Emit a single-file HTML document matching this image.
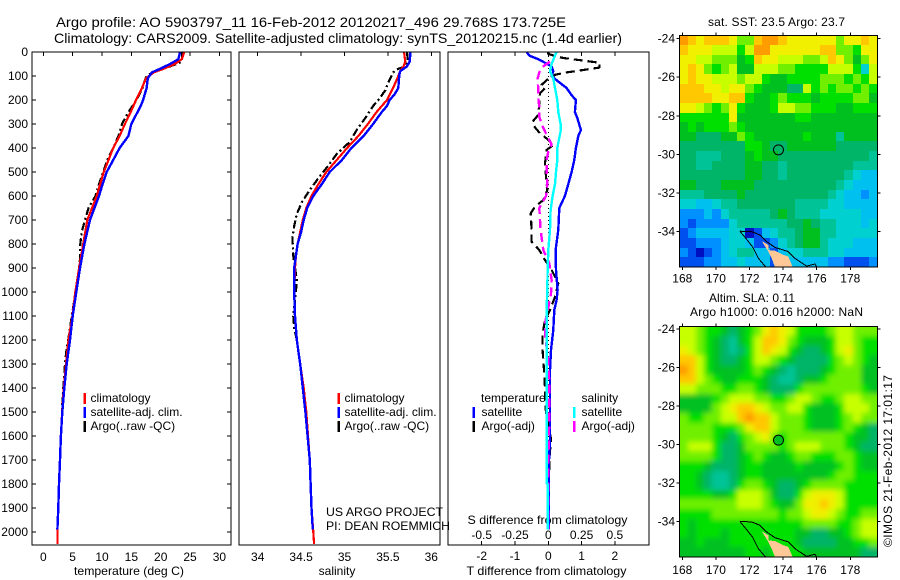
<!DOCTYPE html>
<html>
<head>
<meta charset="utf-8">
<title>Argo profile</title>
<style>
html,body{margin:0;padding:0;background:#fff;width:900px;height:580px;overflow:hidden}
svg{display:block;font-family:"Liberation Sans",sans-serif;font-size:12px;fill:#000}
text{fill:#000}
</style>
</head>
<body>
<svg id="fig" xmlns="http://www.w3.org/2000/svg" width="900" height="580" viewBox="0 0 900 580">
<defs>
<filter id="smooth" x="-10%" y="-10%" width="120%" height="120%"><feGaussianBlur stdDeviation="2.6"/></filter>
<clipPath id="sla-clip"><rect x="679.3" y="326.7" width="198" height="230.3"/></clipPath>
</defs>
<text x="56" y="27" font-size="14" textLength="510" lengthAdjust="spacingAndGlyphs">Argo profile: AO 5903797_11 16-Feb-2012 20120217_496 29.768S 173.725E</text>
<text x="54" y="43" font-size="14" textLength="568" lengthAdjust="spacingAndGlyphs">Climatology: CARS2009. Satellite-adjusted climatology: synTS_20120215.nc (1.4d earlier)</text>
<text x="129" y="575" text-anchor="middle" textLength="110" lengthAdjust="spacingAndGlyphs">temperature (deg C)</text>
<text x="337" y="575" text-anchor="middle">salinity</text>
<text x="466.5" y="575" textLength="160" lengthAdjust="spacingAndGlyphs">T difference from climatology</text>
<text x="467.5" y="524" textLength="160" lengthAdjust="spacingAndGlyphs">S difference from climatology</text>
<text x="326" y="516" textLength="117" lengthAdjust="spacingAndGlyphs">US ARGO PROJECT</text>
<text x="326" y="530" textLength="124" lengthAdjust="spacingAndGlyphs">PI: DEAN ROEMMICH</text>
<text x="708" y="26" textLength="137" lengthAdjust="spacing">sat. SST: 23.5  Argo: 23.7</text>
<text x="709" y="302" textLength="86" lengthAdjust="spacing">Altim. SLA: 0.11</text>
<text x="690" y="316" textLength="173" lengthAdjust="spacing">Argo h1000: 0.016  h2000: NaN</text>
<text transform="translate(892,547) rotate(-90)" textLength="172" lengthAdjust="spacing">©IMOS 21-Feb-2012 17:01:17</text>
</svg>
<script>
// ---- Profile data (depth in dbar) ----
const depthTempClim = [0,30,50,70,85,110,150,200,250,300,350,400,450,500,550,600,700,800,900,1000,1100,1200,1300,1400,1500,1600,1700,1800,1900,2000,2050];
const tempClim = [24,23.6,22.4,20.5,18.8,17.5,16.8,15.8,14.9,13.9,13,11.9,11.1,10.3,9.7,9.1,7.5,6.8,6.1,5.45,4.95,4.3,3.87,3.5,3.2,3,2.85,2.67,2.55,2.4,2.4];
const depthTempSat = [0,30,50,70,85,110,150,200,225,300,350,400,450,500,550,600,700,800,900,1000,1100,1200,1300,1400,1500,1600,1700,1800,1900,1990];
const tempSat = [23.3,23,21.6,19.9,18.5,17.8,17.6,17,16.6,15,14.5,13,11.9,10.8,10.1,9.49,7.96,7,6.25,5.63,5,4.55,3.98,3.58,3.24,3,2.85,2.67,2.55,2.4];
const depthTempArgo = [0,40,50,65,80,100,125,150,200,250,300,350,400,450,500,550,600,650,700,750,800,850,900,1000,1100,1200,1250,1300,1400,1500];
const tempArgo = [23.7,23.6,22.7,21,19,17.6,17.2,16.9,15.9,14.5,13.4,12.8,11.9,10.9,10.2,9.5,8.9,7.7,7.1,6.55,6.3,6.3,6.1,5.5,4.85,4.25,3.9,3.7,3.4,3.15];

const depthSalClim = [0,40,60,80,100,150,200,250,300,350,400,450,500,550,600,650,700,750,800,850,900,1000,1100,1200,1300,1400,1500,1600,1700,1800,1900,2000,2050];
const salClim = [35.686,35.7,35.68,35.64,35.62,35.56,35.49,35.37,35.27,35.16,35.03,34.91,34.79,34.7,34.62,34.56,34.52,34.49,34.46,34.44,34.43,34.42,34.43,34.45,34.49,34.53,34.56,34.58,34.6,34.61,34.62,34.64,34.65];
const depthSalSat = [0,40,60,80,100,150,175,200,225,250,300,350,400,450,500,550,600,650,700,750,800,850,900,1000,1100,1200,1300,1400,1500,1600,1700,1800,1900,1990];
const salSat = [35.76,35.75,35.72,35.64,35.63,35.62,35.58,35.52,35.49,35.43,35.33,35.22,35.08,34.97,34.83,34.74,34.64,34.57,34.53,34.5,34.46,34.44,34.42,34.42,34.43,34.45,34.49,34.52,34.55,34.575,34.6,34.61,34.62,34.635];
const depthSalArgo = [0,40,60,70,85,100,130,160,200,225,275,325,375,425,475,525,575,625,675,725,775,850,950,1000,1100,1150,1200,1300,1400,1500];
const salArgo = [35.72,35.73,35.7,35.62,35.56,35.54,35.5,35.47,35.39,35.33,35.24,35.14,35.06,34.91,34.81,34.7,34.6,34.51,34.45,34.42,34.4,34.41,34.45,34.44,34.41,34.42,34.45,34.49,34.53,34.56];

const depthDiffTSat = [0,15,30,50,60,80,100,120,150,180,200,250,275,325,350,400,450,500,550,600,650,741,825,908,992,1033,1075,1158,1242,1325,1450,1612,1700,1990];
const diffTSat = [-.65,-.57,-.3,-.03,.1,.15,.1,.27,.55,.7,.83,.8,.87,.98,.9,.83,.78,.7,.6,.5,.33,.3,.22,.23,.28,.25,.18,.15,.08,.05,.05,.05,.02,.01];
const depthDiffSSat = [0,15,50,80,110,150,200,250,300,330,400,450,500,550,600,658,741,825,908,992,1075,1158,1242,1325,1450,1796,1800,1990];
const diffSSat = [.0625,.05,.025,.0125,.0375,.05,.0675,.075,.0925,.0925,.0675,.0675,.0575,.05,.0325,.0175,.0125,0,-.005,-.0075,-.0125,-.0125,-.0125,-.0125,-.0125,-.0125,-.005,-.005];
const depthDiffTArgo = [0,8,17,25,36,45,65,75,85,95,117,137,150,172,228,262,290,314,339,360,388,408,464,519,575,617,644,672,742,790,825,867,908,964,1020,1075,1117,1175,1242,1325,1400,1450,1500,1612,1700,1990];
const diffTArgo = [0,0,.2,.45,1.05,1.55,1.53,1.05,.55,.2,-.05,-.2,-.1,-.25,-.28,-.3,-.47,-.4,-.25,-.05,.15,-.05,-.1,-.07,-.03,-.15,-.4,-.53,-.5,-.5,-.27,-.1,.1,.3,.2,.05,-.1,-.17,-.17,-.13,-.1,-.1,-.07,.08,.03,0];
const depthDiffSArgo = [40,50,65,85,115,150,190,230,270,310,345,385,415,450,500,550,600,650,700,741,825,880,950,1008,1064,1130,1183,1283,1380,1450,1600,1700,1990];
const diffSArgo = [.0125,-.0125,-.05,-.0675,-.0825,-.075,-.075,-.0675,-.0675,-.0425,-.0125,.025,0,-.0125,-.0125,-.0075,-.0175,-.0675,-.0625,-.0575,-.0375,.0075,.025,.02,0,-.025,-.025,0,.0075,.0075,.005,0,0];

// ---- Tick labels ----
const depthTicks = [0,100,200,300,400,500,600,700,800,900,1000,1100,1200,1300,1400,1500,1600,1700,1800,1900,2000];
const tempTicks = [0,5,10,15,20,25,30];
const salTicks = [34,34.5,35,35.5,36];
const diffTTicks = [-2,-1,0,1,2];
const diffSTicks = [-0.5,-0.25,0,0.25,0.5];
const lonTicks = [168,170,172,174,176,178];
const latTicks = [-24,-26,-28,-30,-32,-34];

// ---- Argo float position ----
const floatLon = [173.725];
const floatLat = [-29.768];

// ---- Map colour-level grids (north to south, west to east) ----
const sstLevels = [
[13,12,11,12,12,12,11,9,9,12,13,13,12,11,11,11,11,11,11,9,11,11,12,11],
[12,11,11,11,10,10,10,8,10,13,13,11,11,11,11,11,11,12,12,9,9,8,11,11],
[11,11,10,10,9,9,9,7,8,12,11,11,10,10,10,9,9,10,12,11,9,7,9,11],
[11,12,11,9,8,9,10,7,7,10,10,10,9,9,8,8,8,8,10,10,10,8,4,10],
[11,12,11,11,10,10,10,9,10,10,8,7,7,8,8,8,8,9,9,9,8,9,8,10],
[12,12,12,11,11,10,11,11,9,8,7,7,7,6,6,10,8,9,8,9,9,8,9,8],
[12,12,12,12,11,11,12,12,8,7,7,8,9,8,8,8,7,8,8,8,8,9,9,7],
[11,11,10,9,8,9,11,8,7,7,7,8,10,10,9,9,8,8,8,7,7,8,8,8],
[8,8,8,8,8,8,11,7,7,7,7,7,7,7,8,8,7,7,7,7,7,7,7,7],
[7,8,7,8,8,8,9,8,7,7,7,7,7,7,7,7,7,7,7,7,7,7,7,7],
[7,7,6,6,6,7,7,9,8,7,7,7,7,7,7,8,7,7,7,5,7,7,7,7],
[6,6,6,6,6,6,6,6,8,8,7,6,6,7,7,7,7,7,7,6,6,6,6,6],
[6,6,5,5,5,6,6,6,7,8,7,7,6,6,6,6,6,6,6,6,6,6,6,5],
[6,6,5,5,6,6,6,6,7,7,6,6,5,6,6,6,6,6,6,6,6,5,5,5],
[6,6,6,6,6,6,6,6,7,7,6,6,5,6,6,6,6,6,6,6,5,4,3,3],
[7,7,6,6,6,7,7,7,7,6,6,6,6,6,6,6,6,6,6,5,4,3,3,3],
[5,5,5,6,6,6,6,7,6,6,6,6,6,6,6,6,6,6,5,4,3,3,2,3],
[4,4,3,3,4,5,5,6,6,6,6,6,6,6,5,5,5,5,4,4,3,3,3,3],
[2,2,2,3,2,4,5,5,5,5,5,6,7,6,5,5,5,4,4,4,4,4,3,3],
[2,1,2,2,2,2,4,5,5,5,5,5,5,6,6,7,6,5,5,4,4,4,3,4],
[1,2,3,3,3,3,4,4,0,1,3,4,5,5,6,7,7,5,5,4,4,4,4,4],
[1,1,2,2,2,3,4,4,3,1,1,2,4,5,6,7,7,5,4,4,4,3,3,3],
[2,1,0,1,2,3,4,5,5,3,3,1,3,4,4,5,5,5,4,4,3,3,3,3],
[1,1,1,2,2,3,3,4,3,3,3,1,3,3,3,3,3,3,2,2,1,1,1,2]
];
const slaLevels = [
[10,10,9,8,8,7,6,7,8,9,11,12,11,10,8,8,8,8,9,10,10,9,9,9],
[10,10,9,8,7,6,5,7,8,10,12,12,11,9,8,7,7,7,8,10,10,9,8,8],
[11,10,9,8,7,6,5,6,8,10,12,11,10,8,7,6,6,7,8,10,11,9,8,8],
[12,12,10,8,7,6,6,7,8,10,10,9,8,7,6,6,6,6,8,9,10,9,8,7],
[13,12,10,8,7,7,7,7,8,9,8,7,6,5,6,6,6,7,8,9,9,9,7,7],
[12,12,10,9,8,7,7,8,8,8,7,6,5,5,6,7,7,8,9,9,9,9,7,7],
[10,10,9,9,9,8,8,9,9,8,7,6,6,6,8,9,9,9,9,9,9,9,8,7],
[7,7,7,7,8,9,10,10,10,9,9,8,8,9,10,10,9,8,8,9,10,10,9,9],
[7,7,7,7,9,10,11,12,12,11,10,9,9,10,10,8,7,7,7,8,10,10,10,9],
[9,8,8,9,9,10,10,12,13,12,12,10,9,9,9,8,7,7,7,8,9,10,9,9],
[9,9,9,9,8,8,8,9,11,12,12,10,9,9,9,8,7,7,7,8,9,8,7,6],
[9,9,9,9,8,7,6,8,9,10,11,9,8,9,9,9,9,9,9,9,8,7,7,6],
[9,10,10,10,8,6,6,7,9,9,9,9,8,9,10,10,10,9,9,9,8,7,6,6],
[9,9,9,9,8,6,6,7,8,9,8,7,7,8,9,9,8,8,8,9,9,8,7,7],
[8,8,8,7,6,6,6,7,8,8,7,7,7,7,8,7,7,7,7,8,9,8,7,7],
[8,8,7,6,5,5,6,7,8,8,7,7,7,7,7,7,7,7,8,9,9,8,8,8],
[8,8,7,6,5,5,6,8,9,9,8,7,6,6,7,8,9,9,9,9,8,8,8,8],
[8,8,8,8,7,7,8,10,10,10,9,7,6,6,8,10,11,11,11,10,8,8,8,8],
[9,9,9,9,9,9,9,10,10,10,9,8,7,7,9,11,11,12,11,10,8,8,8,8],
[8,8,8,8,9,9,9,9,9,9,9,9,8,9,9,10,11,11,10,9,8,8,9,9],
[8,7,8,8,8,8,8,8,8,8,8,8,8,8,8,9,9,9,9,8,8,9,10,10],
[8,7,8,8,8,7,8,8,8,8,8,8,8,8,7,7,6,6,7,7,8,9,10,10],
[7,7,8,7,7,7,8,8,8,8,8,8,8,8,7,6,6,6,6,7,7,8,8,9],
[7,7,7,7,7,7,7,7,8,8,7,8,8,8,8,7,7,7,7,7,7,7,6,6]
];
const levelColors = ['#0010c0','#0050f0','#0090ff','#00c0f0','#00d0d0','#00c498','#00b468','#00c020','#00e000','#70f000','#c8ff00','#f0f000','#ffc800','#ff9c00'];

// ---- New Zealand outline (lon, lat) ----
const landLon = [172.73,173.12,173.12,173.52,174.01,174.31,174.57,173.52,173.32,173.12];
const landLat = [-34.5,-34.7,-34.97,-35,-35.22,-35.3,-35.85,-35.85,-35.4,-35.05];
const coastWestLon = [171.43,171.87,172.2,172.53,172.92,173.0];
const coastWestLat = [-33.99,-34.45,-34.83,-35.4,-35.8,-35.85];
const coastEastLon = [171.43,172.13,172.63,173.02,173.52,174.31,174.71,175.4,175.9,176];
const coastEastLat = [-33.99,-34.01,-34.19,-34.53,-34.83,-35.05,-35.4,-35.8,-35.69,-35.85];

// ---- Drawing ----
const svg = document.getElementById('fig');
const NS = 'http://www.w3.org/2000/svg';
function mk(tag, attrs, parent, txt) {
  const e = document.createElementNS(NS, tag);
  for (const k in attrs) e.setAttribute(k, attrs[k]);
  if (txt !== undefined) e.textContent = txt;
  (parent || svg).appendChild(e);
  return e;
}
const crisp = 'crispEdges';
const yDepth = d => 52 + 0.24 * d;
const xTemp = v => 43.3 + 5.87 * v;
const xSal = v => 257.7 + 86.8 * (v - 34);
const xDiffT = v => 548.3 + 33.3 * v;
const xDiffS = v => 548.3 + 133.2 * v;

function frame(name, x, y, w, h) {
  const r = mk('rect', {x:x, y:y, width:w, height:h, fill:'none', stroke:'#000', 'stroke-width':1, 'shape-rendering':crisp});
  
  
}
function tick(x1, y1, x2, y2) {
  const l = mk('line', {x1:x1, y1:y1, x2:x2, y2:y2, stroke:'#000', 'stroke-width':1, 'shape-rendering':crisp});
  
  
}
function label(x, y, s, anchor) {
  const t = mk('text', {x:x, y:y, 'text-anchor':anchor || 'middle'}, svg, s);
  
  
}
function series(name, fx, xs, ys, color, width, dash) {
  const pts = xs.map((v, i) => fx(v).toFixed(1) + ',' + yDepth(ys[i]).toFixed(1)).join(' ');
  const a = {points:pts, fill:'none', stroke:color, 'stroke-width':width, 'shape-rendering':crisp, 'stroke-linejoin':'round'};
  if (dash) a['stroke-dasharray'] = dash;
  const p = mk('polyline', a);
  
  
}
function legend(name, barX, textX, y, color, s) {
  if (color) {
    const b = mk('rect', {x:barX, y:y - 9, width:2.6, height:11, fill:color, 'shape-rendering':crisp});
    
    
  }
  const t = mk('text', {x:textX, y:y}, svg, s);
  
  
}

// Panel frames
const panels = [[32,52,199,493],[239,52,201,493],[448,52,201,493]];

// Panel 1: temperature
series('temperature-argo-line', xTemp, tempArgo, depthTempArgo, '#000', 2.2, '8 3 2 3');
series('temperature-climatology-line', xTemp, tempClim, depthTempClim, '#ff0000', 2.2);
series('temperature-satellite-line', xTemp, tempSat, depthTempSat, '#0000ff', 2.4);
frame('temperature-plot-frame', panels[0][0], panels[0][1], panels[0][2], panels[0][3]);
depthTicks.forEach(d => {
  tick(32, yDepth(d), 36, yDepth(d));
  tick(227, yDepth(d), 231, yDepth(d));
  label(28, yDepth(d) + 4, String(d), 'end');
});
tempTicks.forEach(v => {
  tick(xTemp(v), 52, xTemp(v), 56);
  label(xTemp(v), 561, String(v));
});

// Panel 2: salinity
series('salinity-argo-line', xSal, salArgo, depthSalArgo, '#000', 2.2, '8 3 2 3');
series('salinity-climatology-line', xSal, salClim, depthSalClim, '#ff0000', 2.2);
series('salinity-satellite-line', xSal, salSat, depthSalSat, '#0000ff', 2.4);
frame('salinity-plot-frame', panels[1][0], panels[1][1], panels[1][2], panels[1][3]);
salTicks.forEach(v => {
  tick(xSal(v), 52, xSal(v), 56);
  label(xSal(v), 561, String(v));
});

// Panel 3: differences
const zero = mk('line', {x1:xDiffT(0), y1:52, x2:xDiffT(0), y2:yDepth(1990), stroke:'#000', 'stroke-width':1, 'stroke-dasharray':'1 3', 'shape-rendering':crisp});


series('t-difference-argo-line', xDiffT, diffTArgo, depthDiffTArgo, '#000', 2.2, '9 5');
series('t-difference-satellite-line', xDiffT, diffTSat, depthDiffTSat, '#0000ff', 2.4);
series('s-difference-argo-line', xDiffS, diffSArgo, depthDiffSArgo, '#ff00ff', 2.4, '9 5');
series('s-difference-satellite-line', xDiffS, diffSSat, depthDiffSSat, '#00ffff', 2.4);
frame('difference-plot-frame', panels[2][0], panels[2][1], panels[2][2], panels[2][3]);
diffTTicks.forEach(v => {
  tick(xDiffT(v), 52, xDiffT(v), 56);
  tick(xDiffT(v), 541, xDiffT(v), 545);
  label(xDiffT(v), 560, String(v));
});
diffSTicks.forEach(v => {
  label(xDiffS(v), 539, String(v));
});

// Legends
legend('legend-climatology', 83.5, 90.5, 402, '#ff0000', 'climatology');
legend('legend-satellite-adj', 83.5, 90.5, 416, '#0000ff', 'satellite-adj. clim.');
legend('legend-argo', 83.5, 90.5, 430, '#000', 'Argo(..raw -QC)');
legend('legend-climatology-sal', 337.5, 344.5, 402, '#ff0000', 'climatology');
legend('legend-satellite-adj-sal', 337.5, 344.5, 416, '#0000ff', 'satellite-adj. clim.');
legend('legend-argo-sal', 337.5, 344.5, 430, '#000', 'Argo(..raw -QC)');
legend('legend-temperature-heading', 0, 481, 402, null, 'temperature');
legend('legend-t-satellite', 472.5, 481.5, 416, '#0000ff', 'satellite');
legend('legend-t-argo', 472.5, 481.5, 430, '#000', 'Argo(-adj)');
legend('legend-salinity-heading', 0, 581.5, 402, null, 'salinity');
legend('legend-s-satellite', 573, 581.5, 416, '#00ffff', 'satellite');
legend('legend-s-argo', 573, 581.5, 430, '#ff00ff', 'Argo(-adj)');

// Maps
function drawMap(name, levels, top, bottom, lat24, markerFill, labelOffset, smooth) {
  const left = 679.3, right = 877.3;
  const fx = lon => 682.3 + 16.8 * (lon - 168);
  const fy = lat => lat24 + 19.27 * (-24 - lat);
  const outer = mk('g', smooth ? {'clip-path':'url(#sla-clip)'} : {});
  
  
  const g = mk('g', smooth ? {filter:'url(#smooth)'} : {'shape-rendering':crisp}, outer);
  
  
  const nr = levels.length;
  // When smoothed, edge cells bleed past the frame so the blur does not fade to white at the border.
  const bleed = smooth ? 12 : 0;
  levels.forEach((row, r) => {
    const y0 = Math.round(top + (bottom - top) * r / nr) - (r === 0 ? bleed : 0);
    const y1 = Math.round(top + (bottom - top) * (r + 1) / nr) + (r === nr - 1 ? bleed : 0);
    row.forEach((lev, c) => {
      const x0 = Math.round(left + (right - left) * c / row.length) - (c === 0 ? bleed : 0);
      const x1 = Math.round(left + (right - left) * (c + 1) / row.length) + (c === row.length - 1 ? bleed : 0);
      const cell = mk('rect', {x:x0, y:y0, width:x1 - x0, height:y1 - y0, fill:levelColors[lev], 'shape-rendering':crisp}, g);
      
      
    });
  });
  const toPts = (xs, ys) => xs.map((v, i) => fx(v).toFixed(1) + ',' + Math.min(fy(ys[i]), bottom).toFixed(1)).join(' ');
  const land = mk('polygon', {points:toPts(landLon, landLat), fill:'#ffc896', stroke:'none', 'shape-rendering':crisp});
  
  
  const coastW = mk('polyline', {points:toPts(coastWestLon, coastWestLat), fill:'none', stroke:'#000', 'stroke-width':1, 'shape-rendering':crisp});
  
  
  const coastE = mk('polyline', {points:toPts(coastEastLon, coastEastLat), fill:'none', stroke:'#000', 'stroke-width':1, 'shape-rendering':crisp});
  
  
  const mark = mk('circle', {cx:fx(floatLon[0]), cy:fy(floatLat[0]), r:5, fill:markerFill, stroke:'#000', 'stroke-width':1});
  
  
  frame(name + '-frame', left, top, right - left, bottom - top);
  latTicks.forEach(v => {
    tick(left - 3, fy(v), left, fy(v));
    tick(right, fy(v), right + 3, fy(v));
    label(675, fy(v) + 4, String(v), 'end');
  });
  lonTicks.forEach(v => {
    tick(fx(v), top - 3, fx(v), top);
    tick(fx(v), bottom, fx(v), bottom + 3);
    label(fx(v), bottom + labelOffset, String(v));
  });
}
drawMap('sst-map', sstLevels, 35.3, 267, 38.7, 'none', 15.5, false);
drawMap('sla-map', slaLevels, 326.7, 557, 329, '#00c020', 17, true);
</script>
</body>
</html>
